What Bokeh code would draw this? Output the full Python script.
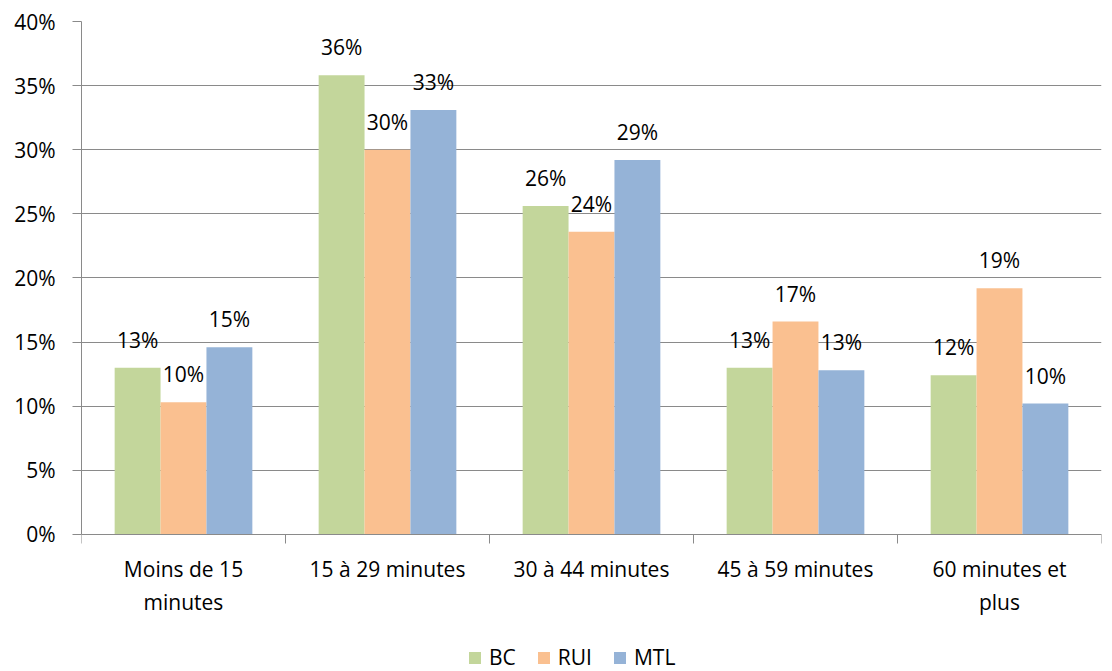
import numpy as np
from bokeh.plotting import figure
from bokeh.models import (ColumnDataSource, Range1d, LinearAxis, FixedTicker,
                          PrintfTickFormatter, Legend, LegendItem)
from bokeh.transform import dodge
from bokeh.core.properties import value
from bokeh.embed import file_html
from bokeh.resources import INLINE

categories = ["Moins de 15\nminutes", "15 à 29 minutes", "30 à 44 minutes",
              "45 à 59 minutes", "60 minutes et\nplus"]
series = ["BC", "RUI", "MTL"]
bc = [13.0, 35.8, 25.6, 13.0, 12.4]
rui = [10.3, 30.0, 23.6, 16.6, 19.2]
mtl = [14.6, 33.1, 29.2, 12.8, 10.2]
colors = ["#C3D69B", "#FAC090", "#95B3D7"]
y_ticks = [0, 5, 10, 15, 20, 25, 30, 35, 40]

FONT = "Open Sans"
FS = "21px"
GRID = "#8A8A8A"

x = np.arange(len(categories)) + 0.5
src = ColumnDataSource(dict(
    x=x, BC=bc, RUI=rui, MTL=mtl,
    BC_l=[f"{v:.0f}%" for v in bc],
    RUI_l=[f"{v:.0f}%" for v in rui],
    MTL_l=[f"{v:.0f}%" for v in mtl],
))

# frame extends below the zero line to leave room for the labels and legend
p = figure(frame_width=1020, frame_height=650, x_range=Range1d(0, len(categories)),
           y_range=Range1d(-10.7, 40), output_backend="svg", toolbar_location=None,
           x_axis_location=None, min_border_left=81, min_border_right=3,
           min_border_top=21, min_border_bottom=0)
p.outline_line_color = None
p.xgrid.visible = False
p.ygrid.grid_line_color = GRID
p.ygrid.ticker = FixedTicker(ticks=y_ticks)

# y axis
ya = p.yaxis[0]
ya.ticker = FixedTicker(ticks=y_ticks)
ya.bounds = (0, 40)
ya.formatter = PrintfTickFormatter(format="%d%%")
ya.major_tick_out = 9
ya.major_tick_in = 0
ya.minor_tick_line_color = None
ya.axis_line_color = GRID
ya.major_tick_line_color = GRID
ya.major_label_standoff = 17
ya.major_label_text_font = FONT
ya.major_label_text_font_size = FS
ya.major_label_text_color = "#000000"

# x axis at y = 0: labels at category centres, tick marks at category boundaries
xa = LinearAxis(fixed_location=0,
                ticker=FixedTicker(ticks=list(x),
                                   minor_ticks=list(range(len(categories) + 1))),
                major_label_overrides={float(xi): c for xi, c in zip(x, categories)},
                major_tick_out=0, major_tick_in=0, major_tick_line_color=None,
                minor_tick_out=9, minor_tick_in=0, minor_tick_line_color=GRID,
                axis_line_color=GRID,
                major_label_standoff=12,
                major_label_text_font=FONT, major_label_text_font_size=FS,
                major_label_text_color="#000000",
                major_label_text_line_height=1.15)
p.add_layout(xa, "below")

w = 0.225
offsets = [-w, 0, w]
renderers = []
for s, c, off in zip(series, colors, offsets):
    r = p.vbar(x=dodge("x", off, range=p.x_range), top=s, width=w, source=src,
               fill_color=c, line_color=None)
    renderers.append(r)
    p.text(x=dodge("x", off, range=p.x_range), y=s, text=s + "_l", source=src,
           text_align="center", text_baseline="alphabetic", y_offset=-28,
           text_font=value(FONT), text_font_size=FS, text_color="#000000")

legend = Legend(items=[LegendItem(label=s, renderers=[r]) for s, r in zip(series, renderers)],
                orientation="horizontal", location=(386, 0),
                glyph_width=15, glyph_height=15, label_standoff=7, spacing=20,
                padding=0, margin=0, border_line_color=None,
                background_fill_alpha=0,
                label_text_font=FONT, label_text_font_size=FS,
                label_text_color="#000000")
p.add_layout(legend, "center")

open("out.html", "w").write(file_html(p, INLINE))
